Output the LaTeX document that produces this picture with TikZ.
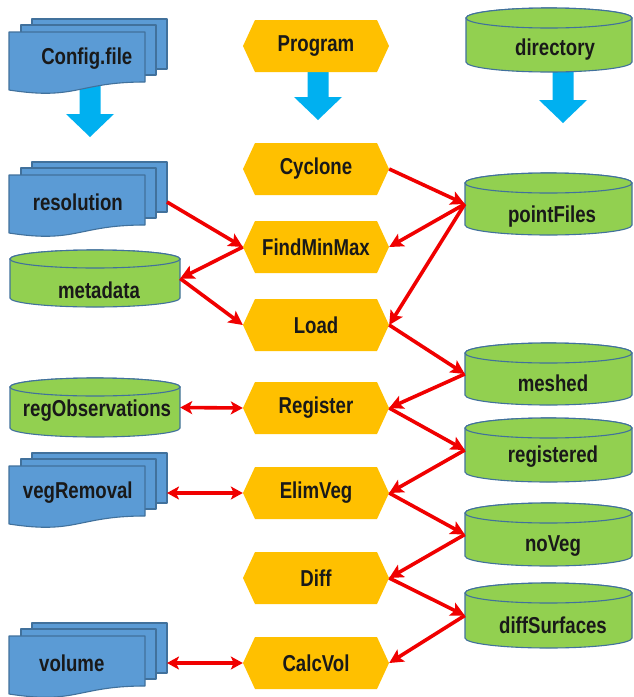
\documentclass[tikz,border=0pt]{standalone}
\usepackage{fontspec}
\newfontfamily\lblfont[FakeStretch=0.81]{Liberation Sans}
\usetikzlibrary{arrows.meta}
\definecolor{docblue}{RGB}{91,155,213}
\definecolor{edgeblue}{RGB}{65,113,156}
\definecolor{dbgreen}{RGB}{146,208,80}
\definecolor{hexyellow}{RGB}{255,192,0}
\definecolor{flowblue}{RGB}{0,176,240}
\definecolor{linkred}{RGB}{240,0,0}
\tikzset{
  lbl/.style={font=\lblfont\bfseries\fontsize{23}{25}\selectfont, text=black!90, inner sep=0pt},
  hexfill/.style={fill=hexyellow},
  docshape/.style={fill=docblue, draw=edgeblue, line width=1.1pt, line join=round},
  cylshape/.style={fill=dbgreen, draw=edgeblue, line width=1.1pt},
  bigarrow/.style={fill=flowblue},
  link/.style={draw=linkred, line width=3.6pt, -{Stealth[length=14pt,width=14pt,inset=3pt]}},
  biglink/.style={draw=linkred, line width=3.6pt, {Stealth[length=12pt,width=13pt,inset=3pt]}-{Stealth[length=12pt,width=13pt,inset=3pt]}},
}
% hexagon: name, center y, text
\newcommand{\hexnode}[3]{%
  \fill[hexfill] (243,#2) -- (255,#2-26) -- (377,#2-26) -- (389,#2) -- (377,#2+26) -- (255,#2+26) -- cycle;
  \node[lbl, minimum width=146pt, minimum height=52pt] (#1) at (316,#2) {#3};
}
% cylinder: name, left, right, top, bottom, ry, text x, text y, text
\newcommand{\cylnode}[9]{%
  \pgfmathsetmacro\mycylcx{(#2+#3)/2}%
  \pgfmathsetmacro\mycylcy{(#4+#5)/2}%
  \pgfmathsetmacro\mycylrx{(#3-#2)/2}%
  \pgfmathsetmacro\mycylw{#3-#2}%
  \pgfmathsetmacro\mycylh{#5-#4}%
  \path[cylshape] (#2,#4+#6) -- (#2,#5-#6) arc[start angle=180,end angle=360,x radius=\mycylrx pt,y radius=#6pt] -- (#3,#4+#6) arc[start angle=0,end angle=180,x radius=\mycylrx pt,y radius=#6pt] -- cycle;
  \path[cylshape] (\mycylcx,#4+#6) ellipse[x radius=\mycylrx pt,y radius=#6pt];
  \node[inner sep=0pt, minimum width=\mycylw pt, minimum height=\mycylh pt] (#1) at (\mycylcx,\mycylcy) {};
  \node[lbl] (#1-label) at (#7,#8) {#9};
}
% multi-document: name, top, text x, text
\newcommand{\mdocnode}[4]{%
  \pgfmathsetmacro\mydocw{2*(167-#3)}%
  \path[docshape] (32,#2) rectangle (167,#2+50);
  \path[docshape] (21,#2+6) rectangle (156,#2+56);
  \path[docshape] (9,#2+13) -- (145,#2+13) -- (145,#2+63) .. controls (77,#2+63) and (77,#2+81.6) .. (9,#2+71) -- cycle;
  \node[lbl, anchor=east, minimum width=\mydocw pt, minimum height=80pt] (#1) at (167,#2+40) {#4};
}
% block arrow: center x, top, head start, tip
\newcommand{\flowarrow}[4]{%
  \fill[bigarrow] (#1-10.5,#2) -- (#1+10.5,#2) -- (#1+10.5,#3) -- (#1+24,#3) -- (#1,#4) -- (#1-24,#3) -- (#1-10.5,#3) -- cycle;
}
\begin{document}
\begin{tikzpicture}[x=1pt,y=-1pt]
\useasboundingbox (0,0) rectangle (633,697);
\fill[white] (0,0) rectangle (633,697);

% block arrows (behind the shapes)
\flowarrow{90}{84}{114}{137}
\flowarrow{318}{68}{97}{120}
\flowarrow{563}{68}{100}{123}

% left column
\mdocnode{Config}{19}{87}{Config.file}
\mdocnode{resolution}{162}{78}{resolution}
\cylnode{metadata}{10}{180}{250}{307}{9}{99}{290}{metadata}
\cylnode{regObservations}{10}{180}{378}{437}{9}{97}{411}{regObservations}
\mdocnode{vegRemoval}{453}{78}{vegRemoval}
\mdocnode{volume}{623}{72}{volume}

% middle column
\hexnode{Program}{46}{Program}
\hexnode{Cyclone}{169}{Cyclone}
\hexnode{FindMinMax}{247}{FindMinMax}
\hexnode{Load}{325}{Load}
\hexnode{Register}{408}{Register}
\hexnode{ElimVeg}{493}{ElimVeg}
\hexnode{Diff}{578}{Diff}
\hexnode{CalcVol}{663}{CalcVol}

% right column
\cylnode{directory}{466}{632}{8}{72}{10}{555}{50}{directory}
\cylnode{pointFiles}{465}{632}{173}{235}{10}{552}{217}{pointFiles}
\cylnode{meshed}{465}{632}{343}{405}{10}{553}{383}{meshed}
\cylnode{registered}{465}{632}{418}{482}{10}{553}{457}{registered}
\cylnode{noVeg}{465}{632}{503}{566}{10}{553}{546}{noVeg}
\cylnode{diffSurfaces}{465}{632}{583}{648}{10}{553}{625}{diffSurfaces}

% red connectors
\draw[link] (Cyclone.east) -- (pointFiles.west);
\draw[link] (pointFiles.west) -- (FindMinMax.east);
\draw[link] (pointFiles.west) -- (Load.east);
\draw[link] (resolution.east) -- (FindMinMax.west);
\draw[link] (FindMinMax.west) -- (metadata.east);
\draw[link] (metadata.east) -- (Load.west);
\draw[link] (Load.east) -- (meshed.west);
\draw[link] (meshed.west) -- (Register.east);
\draw[link] (Register.east) -- (registered.west);
\draw[link] (registered.west) -- (ElimVeg.east);
\draw[link] (ElimVeg.east) -- (noVeg.west);
\draw[link] (noVeg.west) -- (Diff.east);
\draw[link] (Diff.east) -- (diffSurfaces.west);
\draw[link] (diffSurfaces.west) -- (CalcVol.east);
\draw[biglink] (regObservations.east) -- (Register.west);
\draw[biglink] (vegRemoval.east) -- (ElimVeg.west);
\draw[biglink] (volume.east) -- (CalcVol.west);
\end{tikzpicture}
\end{document}
